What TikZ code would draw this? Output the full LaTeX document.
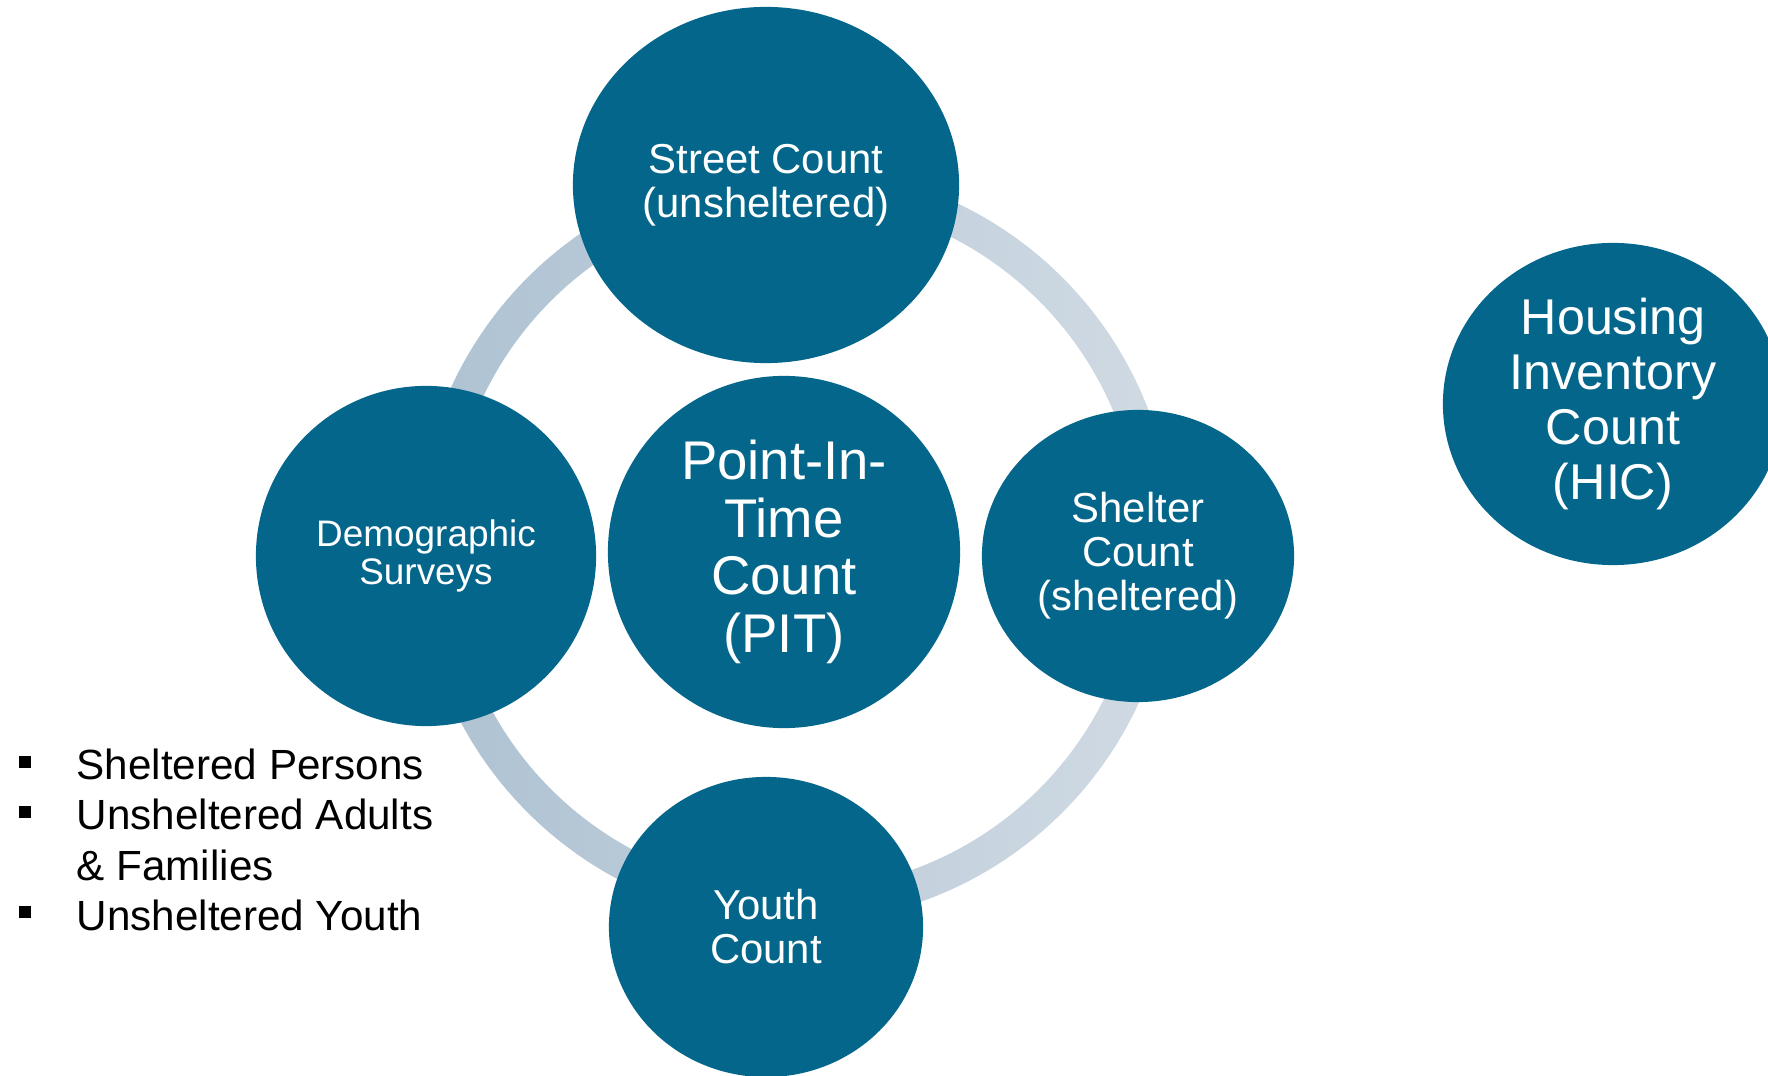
\documentclass[tikz,border=0pt]{standalone}
\usepackage{fontspec}
\setmainfont{Liberation Sans}
\usetikzlibrary{shapes.geometric}

\definecolor{pitblue}{RGB}{3,102,138}
\definecolor{ringdark}{RGB}{174,194,210}
\definecolor{ringlight}{RGB}{208,218,227}

\tikzset{%
  % Specifications for style of nodes:
         base/.style =  { ellipse, fill=pitblue, inner sep=0pt, text=white, align=center },
         count/.style = { base, font=\fontsize{11.9}{12.5}\selectfont },
         pit/.style =   { base, font=\fontsize{15.5}{16.4}\selectfont },
         survey/.style ={ base, font=\fontsize{10.5}{10.8}\selectfont },
         hic/.style =   { base, font=\fontsize{14.3}{15.6}\selectfont },
         item/.style =  { anchor=base west, inner sep=0pt, font=\fontsize{12}{13.3}\selectfont },
}
\newcommand{\sqbullet}{\makebox[0.58cm][l]{\rule[0.12cm]{0.12cm}{0.12cm}}}

\begin{document}
\begin{tikzpicture}[x=0.01cm, y=-0.01cm]
    \useasboundingbox (0,0) rectangle (1768,1076);

    % Draw ring
    \shade[even odd rule, left color=ringdark, right color=ringlight]
        (795,545) circle (3.78cm) (795,545) circle (3.45cm);

    % Draw nodes
    \node (street)  [count, minimum width=3.86cm, minimum height=3.56cm]  at (766,185)  {Street Count\\(unsheltered)};
    \node (pit)     [pit, minimum width=3.52cm, minimum height=3.52cm]    at (784,552)  {Point-In-\\Time\\Count\\(PIT)};
    \node (survey)  [survey, minimum width=3.40cm, minimum height=3.40cm] at (426,556)  {Demographic\\Surveys};
    \node (shelter) [count, minimum width=3.12cm, minimum height=2.92cm]  at (1138,556) {Shelter\\Count\\(sheltered)};
    \node (youth)   [count, minimum width=3.14cm, minimum height=3.00cm]  at (766,927)  {Youth\\Count};
    \node (hic)     [hic, minimum width=3.40cm, minimum height=3.22cm]    at (1613,404) {Housing\\Inventory\\Count\\(HIC)};

    % Draw list
    \node (sheltered) [item] at (18,780) {\sqbullet Sheltered Persons};
    \node (adults)    [item] at (18,830) {\sqbullet Unsheltered Adults};
    \node (families)  [item] at (18,880) {\hspace*{0.58cm}\& Families};
    \node (unyouth)   [item] at (18,930) {\sqbullet Unsheltered Youth};
\end{tikzpicture}
\end{document}
